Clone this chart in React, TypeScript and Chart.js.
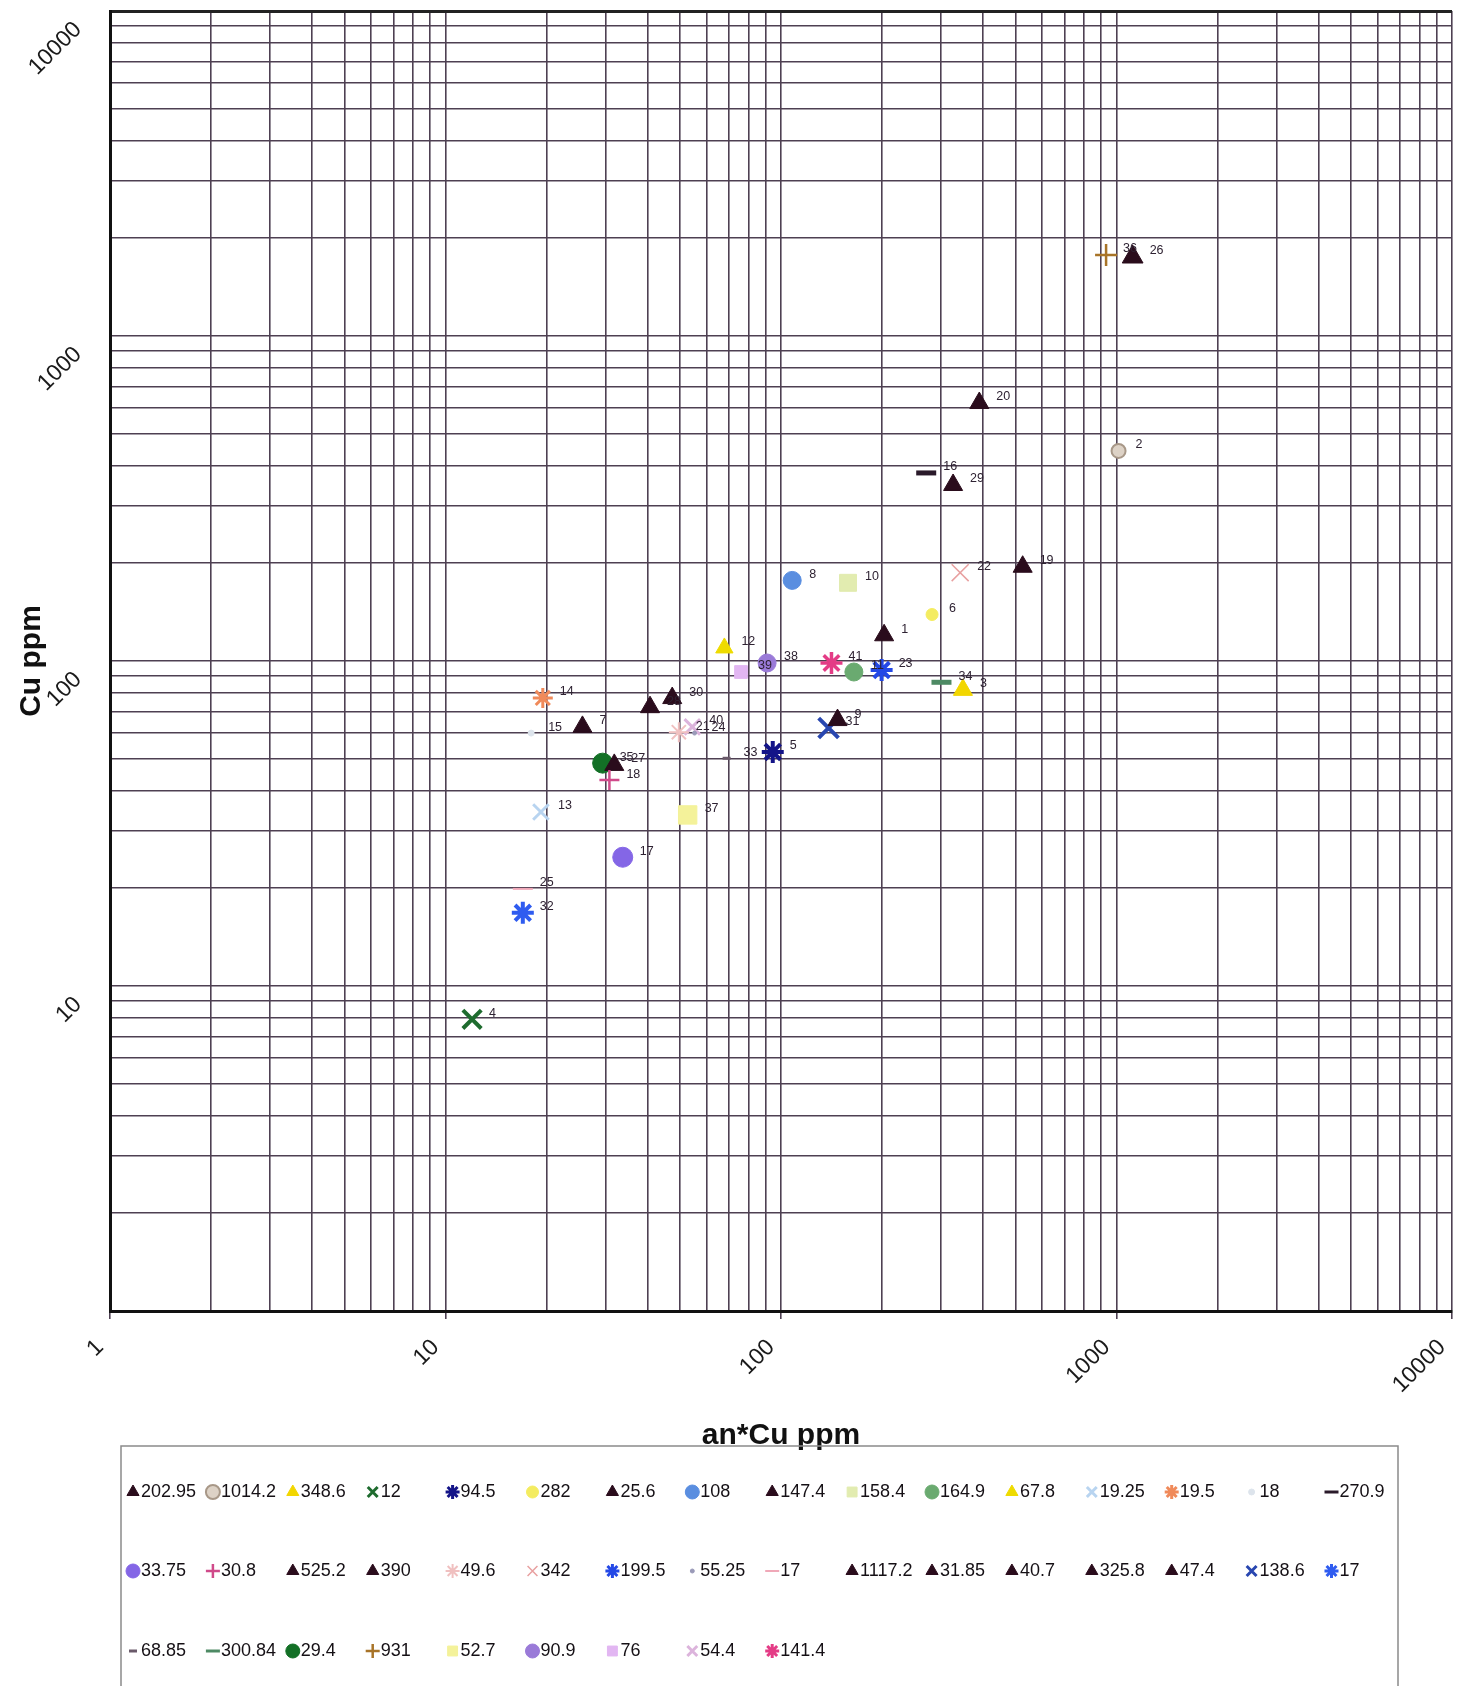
import React, { useEffect, useRef } from 'react';
import { Chart, registerables } from 'chart.js';
import { drawPoint } from 'chart.js/helpers';

Chart.register(...registerables);

// ---- data ----
const sampleIds = ['1','2','3','4','5','6','7','8','9','10','11','12','13','14','15','16','17','18','19','20','21','22','23','24','25','26','27','28','29','30','31','32','33','34','35','36','37','38','39','40','41'];

const anCuValues = [202.95, 1014.2, 348.6, 12, 94.5, 282, 25.6, 108, 147.4, 158.4, 164.9, 67.8, 19.25, 19.5, 18, 270.9,
  33.75, 30.8, 525.2, 390, 49.6, 342, 199.5, 55.25, 17, 1117.2, 31.85, 40.7, 325.8, 47.4, 138.6, 17,
  68.85, 300.84, 29.4, 931, 52.7, 90.9, 76, 54.4, 141.4];

const cuValues = [120, 443, 81.5, 7.9, 52.5, 139, 62.7, 177, 65.8, 174, 92.5, 109.7, 34.3, 77, 60, 379,
  24.9, 43, 195, 622, 60.4, 187, 93.8, 60, 19.9, 1750, 47.9, 72.1, 348, 76.9, 62.2, 16.8,
  50.2, 86, 48.5, 1775, 33.6, 98.6, 92.5, 62.7, 98.6];

const legendLabels = anCuValues.map((v) => String(v));

const axisTickLabels = ['1', '10', '100', '1000', '10000'];
const yAxisLabels = ['10', '100', '1000', '10000'];

// ---- styles ----
const DK = '#2a0c1c';
const markerStyles = ['triangle','circle','triangle','crossRot','star','circle','triangle','circle','triangle','rect','circle','triangle','crossRot','star','circle','line',
  'circle','cross','triangle','triangle','star','crossRot','star','circle','line','triangle','triangle','triangle','triangle','triangle','crossRot','star',
  'line','line','circle','cross','rect','circle','rect','crossRot','star'];
const markerColors = [DK,'#a89888','#f2d600','#1e6b2e','#141488','#f4ec60',DK,'#5a8ee0',DK,'#e2ecb0','#6aaa70','#eedb00','#b8d4f0','#f08a5a','#dde4ec','#2a1a2a',
  '#8466e6','#d04a8a',DK,DK,'#f0c0c0','#e8a0a0','#2448e6','#9a9ab8','#f0a8b8',DK,DK,DK,DK,DK,'#2846b0','#2f5cf0',
  '#6a5a6a','#4e8a64','#137026','#a87428','#f4f29a','#9a7ad8','#e2b6f2','#dcb4dc','#e43c86'];
const markerFills = markerColors.map((c, i) => (i === 1 ? '#ddd2c6' : c));
const markerRadii = [11,7,11,13,11,6,11,9,11,12,9,10,11,10,3,10,
  10,10,11,11,10,12,11,2,10,12,11,11,11,11,14,11,
  4,10,10,11,13,9,9,11,11];
const markerWidths = [1,2,1,4,4,1,1,1,1,1,1,1,3,3,1,5,
  1,2.5,1,1,2,1.5,4,1,2,1,1,1,1,1,4,4,
  3,5,1,2.5,1,1,1,3,3.5];

const GRID = '#4e4052';
const FONT = '"Liberation Sans", Arial, sans-serif';

function makeLogTicks() {
  const out: { value: number }[] = [];
  [1, 10, 100, 1000].forEach((m) => {
    for (let d = 1; d <= 9; d++) out.push({ value: d * m });
  });
  out.push({ value: 10000 });
  return out;
}

const pointLabelPlugin = {
  id: 'pointLabels',
  afterDatasetsDraw(chart: any) {
    const ctx = chart.ctx;
    ctx.save();
    ctx.font = '12.5px ' + FONT;
    ctx.fillStyle = '#2e2232';
    ctx.textAlign = 'left';
    ctx.textBaseline = 'middle';
    chart.data.datasets.forEach((_ds: any, i: number) => {
      const el = chart.getDatasetMeta(i).data[0];
      if (!el) return;
      ctx.fillText(sampleIds[i], el.x + 17, el.y - 6);
    });
    ctx.restore();
  },
};

const yLabelPlugin = {
  id: 'yRotatedLabels',
  afterDraw(chart: any) {
    const ctx = chart.ctx;
    const ys = chart.scales.y;
    const left = chart.chartArea.left;
    ctx.save();
    ctx.font = '23px ' + FONT;
    ctx.fillStyle = '#1a1a1a';
    ctx.textAlign = 'right';
    ctx.textBaseline = 'middle';
    yAxisLabels.forEach((lab) => {
      const yp = ys.getPixelForValue(Number(lab));
      ctx.save();
      ctx.translate(left - 32, yp + 15);
      ctx.rotate(-Math.PI / 4);
      ctx.fillText(lab, 0, 0);
      ctx.restore();
    });
    ctx.restore();
  },
};

const legendGridPlugin = {
  id: 'legendGrid',
  afterDraw(chart: any) {
    const ctx = chart.ctx;
    const top = chart.scales.x.bottom;
    ctx.save();
    ctx.strokeStyle = '#8a8a8a';
    ctx.lineWidth = 1.5;
    ctx.strokeRect(121, top, 1277, 300);
    ctx.font = '18px ' + FONT;
    ctx.textAlign = 'left';
    ctx.textBaseline = 'middle';
    const rowsY = [top + 46, top + 125, top + 205];
    chart.data.datasets.forEach((ds: any, i: number) => {
      const col = i % 16;
      const row = Math.floor(i / 16);
      const mx = 133 + col * 79.9;
      const my = rowsY[row];
      ctx.fillStyle = ds.pointBackgroundColor;
      ctx.strokeStyle = ds.pointBorderColor;
      ctx.lineWidth = Math.min(ds.pointBorderWidth, 3);
      drawPoint(ctx, { pointStyle: ds.pointStyle, radius: Math.min(ds.pointRadius, 7), borderWidth: Math.min(ds.pointBorderWidth, 3), rotation: 0 }, mx, my);
      ctx.fillStyle = '#151015';
      ctx.fillText(ds.label, mx + 8, my);
    });
    ctx.restore();
  },
};

export default function App() {
  const canvasRef = useRef<HTMLCanvasElement | null>(null);

  useEffect(() => {
    if (!canvasRef.current) return;
    const isDecade = (v: number) => axisTickLabels.includes(String(v));
    const chart = new Chart(canvasRef.current, {
      type: 'scatter',
      data: {
        datasets: anCuValues.map((x, i) => ({
          label: legendLabels[i],
          data: [{ x, y: cuValues[i] }],
          pointStyle: markerStyles[i] as any,
          pointBackgroundColor: markerFills[i],
          pointBorderColor: markerColors[i],
          pointRadius: markerRadii[i],
          pointHoverRadius: markerRadii[i],
          pointBorderWidth: markerWidths[i],
          showLine: false,
        })),
      },
      options: {
        responsive: false,
        animation: false,
        devicePixelRatio: 1,
        layout: { autoPadding: false, padding: { left: 0, top: 11, right: 11, bottom: 240 } },
        plugins: {
          legend: { display: false },
          tooltip: { enabled: false },
        },
        scales: {
          x: {
            type: 'logarithmic',
            min: 1,
            max: 10000,
            afterBuildTicks: (scale: any) => { scale.ticks = makeLogTicks(); },
            afterFit: (scale: any) => {
              scale.height = 135;
              scale.paddingLeft = 0;
              scale.paddingRight = 0;
            },
            border: { display: true, color: '#111', width: 3 },
            grid: {
              color: GRID,
              lineWidth: 1.6,
              drawTicks: true,
              tickLength: 8,
              tickColor: (ctx: any) => (ctx.tick && isDecade(ctx.tick.value) ? GRID : 'rgba(0,0,0,0)'),
            },
            ticks: {
              autoSkip: false,
              minRotation: 45,
              maxRotation: 45,
              padding: 15,
              labelOffset: -10,
              color: '#1a1a1a',
              font: { size: 23, family: FONT },
              callback: (v: any) => (isDecade(Number(v)) ? String(v) : ''),
            },
            title: {
              display: true,
              text: 'an*Cu ppm',
              color: '#111',
              font: { size: 30, weight: 'bold', family: FONT },
              padding: { top: 0, bottom: -8 },
            },
          },
          y: {
            type: 'logarithmic',
            min: 1,
            max: 10000,
            afterBuildTicks: (scale: any) => { scale.ticks = makeLogTicks(); },
            afterFit: (scale: any) => {
              scale.width = 110;
              scale.paddingTop = 0;
              scale.paddingBottom = 0;
            },
            border: { display: true, color: '#111', width: 3 },
            grid: {
              color: (ctx: any) => (ctx.tick && ctx.tick.value === 10000 ? '#222' : GRID),
              lineWidth: (ctx: any) => (ctx.tick && ctx.tick.value === 10000 ? 3 : 1.6),
              drawTicks: false,
            },
            ticks: { display: false },
            title: {
              display: true,
              text: 'Cu ppm',
              color: '#111',
              font: { size: 30, weight: 'bold', family: FONT },
              padding: { top: 14, bottom: 0 },
            },
          },
        },
      },
      plugins: [pointLabelPlugin, yLabelPlugin, legendGridPlugin],
    } as any);
    return () => chart.destroy();
  }, []);

  return (
    <div style={{ position: 'absolute', left: 0, top: 0, width: 1463, height: 1686, background: '#fff', overflow: 'hidden' }}>
      <canvas ref={canvasRef} width={1463} height={1686} style={{ display: 'block', width: 1463, height: 1686 }} />
    </div>
  );
}
